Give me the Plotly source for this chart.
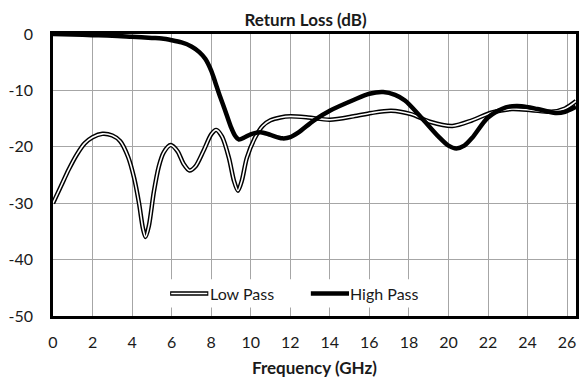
import plotly.graph_objects as go

# ---- data ----
freq_low = [0, 0.4, 0.8, 1.2, 1.6, 2.0, 2.5, 3.0, 3.4, 3.8, 4.1, 4.35, 4.55, 4.68, 4.85,
            5.1, 5.35, 5.6, 5.95, 6.3, 6.6, 6.9, 7.2, 7.6, 8.0, 8.25, 8.55, 8.9, 9.15,
            9.35, 9.55, 9.8, 10.2, 10.6, 11.0, 11.5, 12.0, 12.9, 14.0, 15.2, 16.1, 17.1,
            18.1, 19.1, 20.2, 21.2, 22.2, 23.2, 24.2, 25.2, 25.9, 26.45]
rl_low = [-30, -27, -24, -21.4, -19.4, -18.3, -17.7, -18, -19, -21.8, -25.5, -30, -34.5, -36, -34,
          -28, -23.5, -21, -19.7, -20.8, -23, -24.2, -23.5, -20.8, -17.8, -17, -18.2, -22, -26,
          -27.8, -26, -22, -18.5, -16.3, -15.3, -14.8, -14.6, -14.8, -15.2, -14.6, -14, -13.6,
          -14.2, -15.6, -16.3, -15.3, -13.9, -13.3, -13.5, -13.8, -13.2, -11.9]

freq_high = [0, 1, 2, 3, 4, 5, 5.5, 6, 6.5, 7.0, 7.4, 7.7, 8.0, 8.2, 8.4, 8.7, 9.0, 9.2, 9.4,
             9.7, 10.0, 10.5, 11.0, 11.6, 12.0, 12.4, 13.2, 14.0, 15.2, 16.0, 16.7, 17.3, 17.8,
             18.6, 19.5, 20.0, 20.4, 20.8, 21.2, 22.0, 22.9, 23.7, 24.5, 25.4, 25.9, 26.45]
rl_high = [0, -0.1, -0.2, -0.3, -0.5, -0.7, -0.8, -1.1, -1.5, -2.2, -3.2, -4.4, -6.5, -8.5, -10.6,
           -13.5, -16.5, -18, -18.7, -18.3, -17.8, -17.4, -17.9, -18.5, -18.3, -17.5, -15.3, -13.6,
           -11.7, -10.6, -10.3, -10.8, -11.8, -14.7, -18.2, -19.8, -20.3, -19.8, -18.4, -14.8, -13,
           -12.8, -13.3, -14, -13.8, -12.9]

series_names = ["Low Pass", "High Pass"]
x_ticks = list(range(0, 27, 2))
x_tick_labels = [str(v) for v in x_ticks]
y_ticks = [0, -10, -20, -30, -40, -50]
y_tick_labels = ["0", "-10", "-20", "-30", "-40", "-50"]

title_text = "Return Loss (dB)"
x_title = "Frequency (GHz)"

FONT = "Lato"
TXT = "#1a1a1a"

fig = go.Figure()
# Low pass: double line (black outline with white core)
fig.add_trace(go.Scatter(x=freq_low, y=rl_low, mode="lines", showlegend=False,
                         line=dict(color="black", width=4.5, shape="spline", smoothing=0.8)))
fig.add_trace(go.Scatter(x=freq_low, y=rl_low, mode="lines", showlegend=False,
                         line=dict(color="white", width=1.6, shape="spline", smoothing=0.8)))
# High pass: thick black line
fig.add_trace(go.Scatter(x=freq_high, y=rl_high, mode="lines", showlegend=False,
                         line=dict(color="black", width=4.5, shape="spline", smoothing=0.8)))

shapes = []
annotations = []
# legend box (white background)
shapes.append(dict(type="rect", xref="paper", yref="paper", x0=0.215, x1=0.70, y0=0.03, y1=0.13,
                   fillcolor="white", line=dict(width=0), layer="above"))
leg_y = 0.08
# Low pass sample
shapes.append(dict(type="line", xref="paper", yref="paper", x0=0.224, x1=0.297, y0=leg_y, y1=leg_y,
                   line=dict(color="black", width=4.5), layer="above"))
shapes.append(dict(type="line", xref="paper", yref="paper", x0=0.226, x1=0.295, y0=leg_y, y1=leg_y,
                   line=dict(color="white", width=1.6), layer="above"))
# High pass sample
shapes.append(dict(type="line", xref="paper", yref="paper", x0=0.493, x1=0.566, y0=leg_y, y1=leg_y,
                   line=dict(color="black", width=4.5), layer="above"))
annotations.append(dict(text=series_names[0], xref="paper", yref="paper", x=0.296, y=leg_y,
                        xanchor="left", yanchor="middle", showarrow=False,
                        font=dict(family=FONT, size=16, color=TXT)))
annotations.append(dict(text=series_names[1], xref="paper", yref="paper", x=0.565, y=leg_y,
                        xanchor="left", yanchor="middle", showarrow=False,
                        font=dict(family=FONT, size=16, color=TXT)))

fig.update_layout(
    width=579, height=383,
    margin=dict(l=53, r=3, t=34, b=67, autoexpand=False),
    paper_bgcolor="white", plot_bgcolor="white",
    showlegend=False,
    title=dict(text="<b>" + title_text + "</b>", x=305.5 / 579, xanchor="center",
               y=1 - 20 / 383, yanchor="middle", font=dict(family=FONT, size=17, color=TXT)),
    shapes=shapes, annotations=annotations,
    font=dict(family=FONT, size=16, color=TXT),
)
fig.update_xaxes(range=[0, 26.45], tickvals=x_ticks, ticktext=x_tick_labels,
                 showgrid=True, gridcolor="#a6a6a6", gridwidth=1,
                 showline=True, linecolor="black", linewidth=2.5, mirror=True,
                 ticks="", ticklabelstandoff=10, zeroline=False, automargin=False,
                 title=dict(text="<b>" + x_title + "</b>", standoff=13,
                            font=dict(family=FONT, size=17, color=TXT)),
                 tickfont=dict(family=FONT, size=16, color=TXT))
fig.update_yaxes(range=[-50, 0], tickvals=y_ticks, ticktext=y_tick_labels,
                 showgrid=True, gridcolor="#a6a6a6", gridwidth=1,
                 showline=True, linecolor="black", linewidth=2.5, mirror=True,
                 ticks="", ticklabelstandoff=14, zeroline=False, automargin=False,
                 tickfont=dict(family=FONT, size=16, color=TXT))

fig.write_html("out.html", config={"displayModeBar": False},
               post_script="document.body.style.margin='0';document.body.style.padding='0';")
